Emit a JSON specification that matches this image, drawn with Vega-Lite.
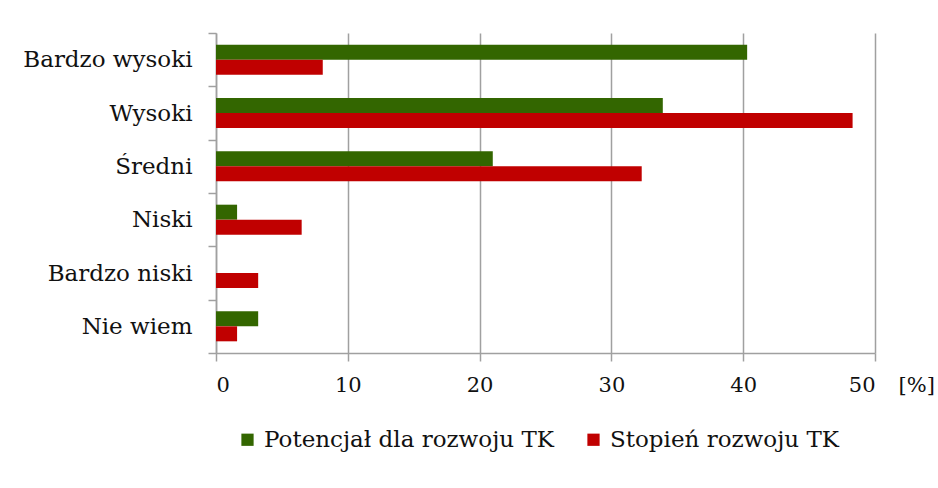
{
  "$schema": "https://vega.github.io/schema/vega-lite/v6.json",
  "width": 659,
  "height": 320,
  "autosize": {"type": "none"},
  "padding": {"left": 216, "top": 33, "right": 63, "bottom": 135},
  "background": "white",
  "data": {
    "values": [
      {"kategoria": "Bardzo wysoki", "seria": "Potencjał dla rozwoju TK", "wartosc": 40.3},
      {"kategoria": "Bardzo wysoki", "seria": "Stopień rozwoju TK", "wartosc": 8.1},
      {"kategoria": "Wysoki", "seria": "Potencjał dla rozwoju TK", "wartosc": 33.9},
      {"kategoria": "Wysoki", "seria": "Stopień rozwoju TK", "wartosc": 48.3},
      {"kategoria": "Średni", "seria": "Potencjał dla rozwoju TK", "wartosc": 21.0},
      {"kategoria": "Średni", "seria": "Stopień rozwoju TK", "wartosc": 32.3},
      {"kategoria": "Niski", "seria": "Potencjał dla rozwoju TK", "wartosc": 1.6},
      {"kategoria": "Niski", "seria": "Stopień rozwoju TK", "wartosc": 6.5},
      {"kategoria": "Bardzo niski", "seria": "Potencjał dla rozwoju TK", "wartosc": 0},
      {"kategoria": "Bardzo niski", "seria": "Stopień rozwoju TK", "wartosc": 3.2},
      {"kategoria": "Nie wiem", "seria": "Potencjał dla rozwoju TK", "wartosc": 3.2},
      {"kategoria": "Nie wiem", "seria": "Stopień rozwoju TK", "wartosc": 1.6}
    ]
  },
  "mark": {"type": "bar"},
  "encoding": {
    "y": {
      "field": "kategoria",
      "type": "nominal",
      "sort": ["Bardzo wysoki", "Wysoki", "Średni", "Niski", "Bardzo niski", "Nie wiem"],
      "scale": {"paddingInner": 0, "paddingOuter": 0},
      "axis": {
        "title": null,
        "tickBand": "extent",
        "tickSize": 8,
        "tickColor": "#a0a0a0",
        "tickWidth": 1.5,
        "domainColor": "#a0a0a0",
        "domainWidth": 1.5,
        "labelFont": "DejaVu Serif",
        "labelFontSize": 23,
        "labelColor": "#111111",
        "labelPadding": 16,
        "labelLimit": 300,
        "grid": false
      }
    },
    "yOffset": {
      "field": "seria",
      "type": "nominal",
      "sort": ["Potencjał dla rozwoju TK", "Stopień rozwoju TK"],
      "scale": {"paddingInner": 0, "paddingOuter": 0.78}
    },
    "x": {
      "field": "wartosc",
      "type": "quantitative",
      "scale": {"domain": [0, 50], "nice": false},
      "axis": {
        "values": [0, 10, 20, 30, 40, 50],
        "title": "[%]",
        "titleFont": "DejaVu Serif",
        "titleFontSize": 21,
        "titleFontWeight": "normal",
        "titleColor": "#111111",
        "titleX": 682,
        "titleY": 38,
        "titleAlign": "left",
        "titleBaseline": "alphabetic",
        "grid": true,
        "gridColor": "#a0a0a0",
        "gridWidth": 1.5,
        "tickSize": 8,
        "tickColor": "#a0a0a0",
        "tickWidth": 1.5,
        "domainColor": "#a0a0a0",
        "domainWidth": 1.5,
        "labelFont": "DejaVu Serif",
        "labelFontSize": 21,
        "labelColor": "#111111",
        "labelPadding": 13
      }
    },
    "color": {
      "field": "seria",
      "type": "nominal",
      "sort": ["Potencjał dla rozwoju TK", "Stopień rozwoju TK"],
      "scale": {"domain": ["Potencjał dla rozwoju TK", "Stopień rozwoju TK"], "range": ["#336600", "#c00000"]},
      "legend": {
        "title": null,
        "orient": "none",
        "direction": "horizontal",
        "legendX": 20,
        "legendY": 395,
        "symbolType": "square",
        "symbolSize": 150,
        "symbolStrokeWidth": 0,
        "labelFont": "DejaVu Serif",
        "labelFontSize": 23,
        "labelColor": "#111111",
        "labelLimit": 400,
        "labelOffset": 5,
        "columnPadding": 28
      }
    }
  },
  "config": {
    "view": {"stroke": null}
  }
}
